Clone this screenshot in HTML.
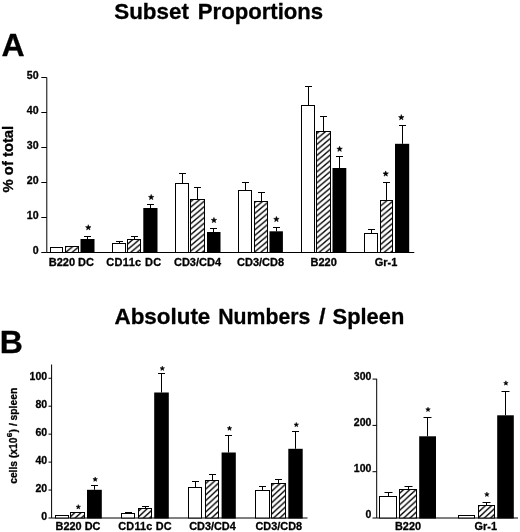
<!DOCTYPE html><html><head><meta charset="utf-8"><title>chart</title>
<style>html,body{margin:0;padding:0;background:#fff;}svg{display:block;filter:blur(0.3px)}</style></head><body>
<svg width="520" height="532" viewBox="0 0 520 532">
<defs><pattern id="hatch" width="6.5" height="5.5" patternUnits="userSpaceOnUse"><rect width="6.5" height="5.5" fill="#fff"/><path d="M-6.5 11.0L13.0 -5.5M-6.5 5.5L6.5 -5.5M0 11.0L13.0 0" stroke="#000" stroke-width="1.3"/></pattern><pattern id="hatchB" width="6.2" height="5.7" patternUnits="userSpaceOnUse"><rect width="6.2" height="5.7" fill="#fff"/><path d="M-6.2 11.4L12.4 -5.7M-6.2 5.7L6.2 -5.7M0 11.4L12.4 0" stroke="#000" stroke-width="1.35"/></pattern></defs>
<rect width="520" height="532" fill="#fff"/>
<text transform="translate(114.21 18.9) scale(0.9946 1)" font-size="22.55" font-family="Liberation Sans, sans-serif" font-weight="bold" stroke="#000" stroke-width="0.3" stroke-linejoin="round">Subset</text>
<text transform="translate(197.82 18.9) scale(0.9817 1)" font-size="22.55" font-family="Liberation Sans, sans-serif" font-weight="bold" stroke="#000" stroke-width="0.3" stroke-linejoin="round">Proportions</text>
<text transform="translate(114.49 323.7) scale(1.0053 1)" font-size="22.3" font-family="Liberation Sans, sans-serif" font-weight="bold" stroke="#000" stroke-width="0.3" stroke-linejoin="round">Absolute</text>
<text transform="translate(218.25 323.7) scale(0.9526 1)" font-size="22.3" font-family="Liberation Sans, sans-serif" font-weight="bold" stroke="#000" stroke-width="0.3" stroke-linejoin="round">Numbers</text>
<text transform="translate(318.90 323.7) scale(1.0500 1)" font-size="22.3" font-family="Liberation Sans, sans-serif" font-weight="bold" stroke="#000" stroke-width="0.3" stroke-linejoin="round">/</text>
<text transform="translate(332.62 323.7) scale(0.9803 1)" font-size="22.3" font-family="Liberation Sans, sans-serif" font-weight="bold" stroke="#000" stroke-width="0.3" stroke-linejoin="round">Spleen</text>
<text x="1.5" y="55.8" font-size="32" font-family="Liberation Sans, sans-serif" font-weight="bold" stroke="#000" stroke-width="0.3" stroke-linejoin="round">A</text>
<text x="-0.3" y="353.3" font-size="32" font-family="Liberation Sans, sans-serif" font-weight="bold" stroke="#000" stroke-width="0.3" stroke-linejoin="round">B</text>
<path d="M46.8 77.5V252.5H414.3" stroke="#000" stroke-width="1" fill="none"/>
<path d="M41.3 252.5H46.8" stroke="#000" stroke-width="1"/>
<text x="38.6" y="253.7" font-size="10.6" text-anchor="end" font-family="Liberation Sans, sans-serif" font-weight="bold" stroke="#000" stroke-width="0.3" stroke-linejoin="round">0</text>
<path d="M41.3 217.5H46.8" stroke="#000" stroke-width="1"/>
<text x="38.6" y="218.7" font-size="10.6" text-anchor="end" font-family="Liberation Sans, sans-serif" font-weight="bold" stroke="#000" stroke-width="0.3" stroke-linejoin="round">10</text>
<path d="M41.3 182.5H46.8" stroke="#000" stroke-width="1"/>
<text x="38.6" y="183.7" font-size="10.6" text-anchor="end" font-family="Liberation Sans, sans-serif" font-weight="bold" stroke="#000" stroke-width="0.3" stroke-linejoin="round">20</text>
<path d="M41.3 147.5H46.8" stroke="#000" stroke-width="1"/>
<text x="38.6" y="148.7" font-size="10.6" text-anchor="end" font-family="Liberation Sans, sans-serif" font-weight="bold" stroke="#000" stroke-width="0.3" stroke-linejoin="round">30</text>
<path d="M41.3 112.5H46.8" stroke="#000" stroke-width="1"/>
<text x="38.6" y="113.7" font-size="10.6" text-anchor="end" font-family="Liberation Sans, sans-serif" font-weight="bold" stroke="#000" stroke-width="0.3" stroke-linejoin="round">40</text>
<path d="M41.3 77.5H46.8" stroke="#000" stroke-width="1"/>
<text x="38.6" y="78.7" font-size="10.6" text-anchor="end" font-family="Liberation Sans, sans-serif" font-weight="bold" stroke="#000" stroke-width="0.3" stroke-linejoin="round">50</text>
<text transform="translate(13.2 159.1) rotate(-90)" font-size="14.8" text-anchor="middle" font-family="Liberation Sans, sans-serif" font-weight="bold" stroke="#000" stroke-width="0.3" stroke-linejoin="round">% of total</text>
<rect x="50.5" y="247.5" width="12.0" height="5.0" fill="#fff" stroke="#000" stroke-width="1.0"/>
<rect x="65.5" y="246.5" width="13.0" height="6.0" fill="url(#hatch)" stroke="#000" stroke-width="1.0"/>
<rect x="80.5" y="239" width="14.0" height="14.0" fill="#000"/>
<path d="M87.5 239V236.5M84.0 236.5H91.0" stroke="#000" stroke-width="1" fill="none"/>
<polygon points="88.30,224.70 89.02,226.61 91.06,226.70 89.46,227.98 90.00,229.95 88.30,228.82 86.60,229.95 87.14,227.98 85.54,226.70 87.58,226.61" fill="#000" stroke="#000" stroke-width="0.5" stroke-linejoin="round"/>
<rect x="112.5" y="243.5" width="13.0" height="9.0" fill="#fff" stroke="#000" stroke-width="1.0"/>
<path d="M119.5 243.5V241.5M116.0 241.5H123.0" stroke="#000" stroke-width="1" fill="none"/>
<rect x="127.5" y="239.5" width="13.0" height="13.0" fill="url(#hatch)" stroke="#000" stroke-width="1.0"/>
<path d="M134.5 239.5V236.5M131.0 236.5H138.0" stroke="#000" stroke-width="1" fill="none"/>
<rect x="143.3" y="208" width="14.199999999999989" height="45.0" fill="#000"/>
<path d="M150.5 208V204.5M147.0 204.5H154.0" stroke="#000" stroke-width="1" fill="none"/>
<polygon points="151.20,194.40 151.92,196.31 153.96,196.40 152.36,197.68 152.90,199.65 151.20,198.52 149.50,199.65 150.04,197.68 148.44,196.40 150.48,196.31" fill="#000" stroke="#000" stroke-width="0.5" stroke-linejoin="round"/>
<rect x="175.5" y="183.5" width="13.0" height="69.0" fill="#fff" stroke="#000" stroke-width="1.0"/>
<path d="M182.5 183.5V173.5M179.0 173.5H186.0" stroke="#000" stroke-width="1" fill="none"/>
<rect x="190.5" y="199.5" width="14.0" height="53.0" fill="url(#hatch)" stroke="#000" stroke-width="1.0"/>
<path d="M197.5 199.5V187.5M194.0 187.5H201.0" stroke="#000" stroke-width="1" fill="none"/>
<rect x="207" y="232" width="13.5" height="21.0" fill="#000"/>
<path d="M213.5 232V228.5M210.0 228.5H217.0" stroke="#000" stroke-width="1" fill="none"/>
<polygon points="213.95,217.40 214.67,219.31 216.71,219.40 215.11,220.68 215.65,222.65 213.95,221.52 212.25,222.65 212.79,220.68 211.19,219.40 213.23,219.31" fill="#000" stroke="#000" stroke-width="0.5" stroke-linejoin="round"/>
<rect x="238.5" y="190.5" width="13.0" height="62.0" fill="#fff" stroke="#000" stroke-width="1.0"/>
<path d="M245.5 190.5V182.5M242.0 182.5H249.0" stroke="#000" stroke-width="1" fill="none"/>
<rect x="254.5" y="201.5" width="13.0" height="51.0" fill="url(#hatch)" stroke="#000" stroke-width="1.0"/>
<path d="M261.5 201.5V192.5M258.0 192.5H265.0" stroke="#000" stroke-width="1" fill="none"/>
<rect x="269.5" y="231.3" width="13.399999999999977" height="21.69999999999999" fill="#000"/>
<path d="M276.5 231.3V227.5M273.0 227.5H280.0" stroke="#000" stroke-width="1" fill="none"/>
<polygon points="276.40,216.40 277.12,218.31 279.16,218.40 277.56,219.68 278.10,221.65 276.40,220.52 274.70,221.65 275.24,219.68 273.64,218.40 275.68,218.31" fill="#000" stroke="#000" stroke-width="0.5" stroke-linejoin="round"/>
<rect x="301.5" y="105.5" width="13.0" height="147.0" fill="#fff" stroke="#000" stroke-width="1.0"/>
<path d="M308.5 105.5V86.5M305.0 86.5H312.0" stroke="#000" stroke-width="1" fill="none"/>
<rect x="316.5" y="131.5" width="14.0" height="121.0" fill="url(#hatch)" stroke="#000" stroke-width="1.0"/>
<path d="M323.5 131.5V116.5M320.0 116.5H327.0" stroke="#000" stroke-width="1" fill="none"/>
<rect x="332.5" y="168" width="13.800000000000011" height="85.0" fill="#000"/>
<path d="M339.5 168V156.5M336.0 156.5H343.0" stroke="#000" stroke-width="1" fill="none"/>
<polygon points="339.60,146.20 340.32,148.11 342.36,148.20 340.76,149.48 341.30,151.45 339.60,150.32 337.90,151.45 338.44,149.48 336.84,148.20 338.88,148.11" fill="#000" stroke="#000" stroke-width="0.5" stroke-linejoin="round"/>
<rect x="364.5" y="233.5" width="13.0" height="19.0" fill="#fff" stroke="#000" stroke-width="1.0"/>
<path d="M371.5 233.5V229.5M368.0 229.5H375.0" stroke="#000" stroke-width="1" fill="none"/>
<rect x="380.5" y="200.5" width="12.0" height="52.0" fill="url(#hatch)" stroke="#000" stroke-width="1.0"/>
<path d="M386.5 200.5V182.5M383.0 182.5H390.0" stroke="#000" stroke-width="1" fill="none"/>
<polygon points="385.70,170.90 386.42,172.81 388.46,172.90 386.86,174.18 387.40,176.15 385.70,175.02 384.00,176.15 384.54,174.18 382.94,172.90 384.98,172.81" fill="#000" stroke="#000" stroke-width="0.5" stroke-linejoin="round"/>
<rect x="395" y="143.8" width="14.199999999999989" height="109.19999999999999" fill="#000"/>
<path d="M402.5 143.8V125.5M399.0 125.5H406.0" stroke="#000" stroke-width="1" fill="none"/>
<polygon points="401.30,114.60 402.02,116.51 404.06,116.60 402.46,117.88 403.00,119.85 401.30,118.72 399.60,119.85 400.14,117.88 398.54,116.60 400.58,116.51" fill="#000" stroke="#000" stroke-width="0.5" stroke-linejoin="round"/>
<text x="71.4" y="266.2" font-size="11" text-anchor="middle" font-family="Liberation Sans, sans-serif" font-weight="bold" stroke="#000" stroke-width="0.3" stroke-linejoin="round">B220 DC</text>
<text x="133.9" y="266.2" font-size="11" text-anchor="middle" letter-spacing="0.33" font-family="Liberation Sans, sans-serif" font-weight="bold" stroke="#000" stroke-width="0.3" stroke-linejoin="round">CD11c DC</text>
<text x="197.5" y="266.2" font-size="11" text-anchor="middle" font-family="Liberation Sans, sans-serif" font-weight="bold" stroke="#000" stroke-width="0.3" stroke-linejoin="round">CD3/CD4</text>
<text x="260.6" y="266.2" font-size="11" text-anchor="middle" font-family="Liberation Sans, sans-serif" font-weight="bold" stroke="#000" stroke-width="0.3" stroke-linejoin="round">CD3/CD8</text>
<text x="323.7" y="266.2" font-size="11" text-anchor="middle" font-family="Liberation Sans, sans-serif" font-weight="bold" stroke="#000" stroke-width="0.3" stroke-linejoin="round">B220</text>
<text x="386" y="266.2" font-size="11" text-anchor="middle" font-family="Liberation Sans, sans-serif" font-weight="bold" stroke="#000" stroke-width="0.3" stroke-linejoin="round">Gr-1</text>
<path d="M51.6 364.5V518H307.5" stroke="#000" stroke-width="1" fill="none"/>
<path d="M48.5 518.00H51.6" stroke="#000" stroke-width="1"/>
<text x="47.1" y="520.00" font-size="10.5" text-anchor="end" font-family="Liberation Sans, sans-serif" font-weight="bold" stroke="#000" stroke-width="0.3" stroke-linejoin="round">0</text>
<path d="M48.5 490.05H51.6" stroke="#000" stroke-width="1"/>
<text x="47.1" y="492.05" font-size="10.5" text-anchor="end" font-family="Liberation Sans, sans-serif" font-weight="bold" stroke="#000" stroke-width="0.3" stroke-linejoin="round">20</text>
<path d="M48.5 462.10H51.6" stroke="#000" stroke-width="1"/>
<text x="47.1" y="464.10" font-size="10.5" text-anchor="end" font-family="Liberation Sans, sans-serif" font-weight="bold" stroke="#000" stroke-width="0.3" stroke-linejoin="round">40</text>
<path d="M48.5 434.15H51.6" stroke="#000" stroke-width="1"/>
<text x="47.1" y="436.15" font-size="10.5" text-anchor="end" font-family="Liberation Sans, sans-serif" font-weight="bold" stroke="#000" stroke-width="0.3" stroke-linejoin="round">60</text>
<path d="M48.5 406.20H51.6" stroke="#000" stroke-width="1"/>
<text x="47.1" y="408.20" font-size="10.5" text-anchor="end" font-family="Liberation Sans, sans-serif" font-weight="bold" stroke="#000" stroke-width="0.3" stroke-linejoin="round">80</text>
<path d="M48.5 378.25H51.6" stroke="#000" stroke-width="1"/>
<text x="47.1" y="380.25" font-size="10.5" text-anchor="end" font-family="Liberation Sans, sans-serif" font-weight="bold" stroke="#000" stroke-width="0.3" stroke-linejoin="round">100</text>
<text transform="translate(17.3 435.8) rotate(-90)" font-size="10.3" text-anchor="middle" font-family="Liberation Sans, sans-serif" font-weight="bold" stroke="#000" stroke-width="0.3" stroke-linejoin="round">cells (x10<tspan font-size="8" dy="-5" dx="0.3">6</tspan><tspan dy="5" dx="0.3">) / spleen</tspan></text>
<rect x="55.5" y="515.5" width="13.0" height="2.5" fill="#fff" stroke="#000" stroke-width="1.0"/>
<rect x="70.5" y="512.5" width="14.0" height="5.5" fill="url(#hatchB)" stroke="#000" stroke-width="1.0"/>
<polygon points="78.30,504.60 78.89,506.18 80.58,506.26 79.26,507.31 79.71,508.94 78.30,508.01 76.89,508.94 77.34,507.31 76.02,506.26 77.71,506.18" fill="#000" stroke="#000" stroke-width="0.5" stroke-linejoin="round"/>
<rect x="87" y="489.8" width="14.799999999999997" height="28.69999999999999" fill="#000"/>
<path d="M94.5 489.8V485.5M91.0 485.5H98.0" stroke="#000" stroke-width="1" fill="none"/>
<polygon points="95.20,477.00 95.79,478.58 97.48,478.66 96.16,479.71 96.61,481.34 95.20,480.41 93.79,481.34 94.24,479.71 92.92,478.66 94.61,478.58" fill="#000" stroke="#000" stroke-width="0.5" stroke-linejoin="round"/>
<rect x="121.5" y="513.5" width="13.0" height="4.5" fill="#fff" stroke="#000" stroke-width="1.0"/>
<path d="M128.5 513.5V512.5M125.0 512.5H132.0" stroke="#000" stroke-width="1" fill="none"/>
<rect x="138.5" y="508.5" width="13.0" height="9.5" fill="url(#hatchB)" stroke="#000" stroke-width="1.0"/>
<path d="M145.5 508.5V506.5M142.0 506.5H149.0" stroke="#000" stroke-width="1" fill="none"/>
<rect x="154.2" y="392.5" width="14.600000000000023" height="126.0" fill="#000"/>
<path d="M161.5 392.5V373.5M158.0 373.5H165.0" stroke="#000" stroke-width="1" fill="none"/>
<polygon points="162.30,366.10 162.89,367.68 164.58,367.76 163.26,368.81 163.71,370.44 162.30,369.51 160.89,370.44 161.34,368.81 160.02,367.76 161.71,367.68" fill="#000" stroke="#000" stroke-width="0.5" stroke-linejoin="round"/>
<rect x="188.5" y="487.5" width="13.0" height="30.5" fill="#fff" stroke="#000" stroke-width="1.0"/>
<path d="M195.5 487.5V481.5M192.0 481.5H199.0" stroke="#000" stroke-width="1" fill="none"/>
<rect x="205.5" y="480.5" width="13.0" height="37.5" fill="url(#hatchB)" stroke="#000" stroke-width="1.0"/>
<path d="M212.5 480.5V474.5M209.0 474.5H216.0" stroke="#000" stroke-width="1" fill="none"/>
<rect x="221.6" y="452.5" width="14.200000000000017" height="66.0" fill="#000"/>
<path d="M228.5 452.5V435.5M225.0 435.5H232.0" stroke="#000" stroke-width="1" fill="none"/>
<polygon points="229.50,426.00 230.09,427.58 231.78,427.66 230.46,428.71 230.91,430.34 229.50,429.41 228.09,430.34 228.54,428.71 227.22,427.66 228.91,427.58" fill="#000" stroke="#000" stroke-width="0.5" stroke-linejoin="round"/>
<rect x="255.5" y="490.5" width="14.0" height="27.5" fill="#fff" stroke="#000" stroke-width="1.0"/>
<path d="M262.5 490.5V486.5M259.0 486.5H266.0" stroke="#000" stroke-width="1" fill="none"/>
<rect x="271.5" y="483.5" width="14.0" height="34.5" fill="url(#hatchB)" stroke="#000" stroke-width="1.0"/>
<path d="M278.5 483.5V479.5M275.0 479.5H282.0" stroke="#000" stroke-width="1" fill="none"/>
<rect x="288.3" y="448.8" width="14.399999999999977" height="69.69999999999999" fill="#000"/>
<path d="M295.5 448.8V431.5M292.0 431.5H299.0" stroke="#000" stroke-width="1" fill="none"/>
<polygon points="296.30,422.40 296.89,423.98 298.58,424.06 297.26,425.11 297.71,426.74 296.30,425.81 294.89,426.74 295.34,425.11 294.02,424.06 295.71,423.98" fill="#000" stroke="#000" stroke-width="0.5" stroke-linejoin="round"/>
<text x="78" y="529.8" font-size="10.9" text-anchor="middle" font-family="Liberation Sans, sans-serif" font-weight="bold" stroke="#000" stroke-width="0.3" stroke-linejoin="round">B220 DC</text>
<text x="145.1" y="529.8" font-size="10.9" text-anchor="middle" letter-spacing="0.2" font-family="Liberation Sans, sans-serif" font-weight="bold" stroke="#000" stroke-width="0.3" stroke-linejoin="round">CD11c DC</text>
<text x="212.5" y="529.8" font-size="10.9" text-anchor="middle" font-family="Liberation Sans, sans-serif" font-weight="bold" stroke="#000" stroke-width="0.3" stroke-linejoin="round">CD3/CD4</text>
<text x="278.8" y="529.8" font-size="10.9" text-anchor="middle" font-family="Liberation Sans, sans-serif" font-weight="bold" stroke="#000" stroke-width="0.3" stroke-linejoin="round">CD3/CD8</text>
<path d="M376.7 378.8V518H518" stroke="#000" stroke-width="1" fill="none"/>
<path d="M372.5 518.00H376.7" stroke="#000" stroke-width="1"/>
<text x="371.4" y="518.40" font-size="10.5" text-anchor="end" font-family="Liberation Sans, sans-serif" font-weight="bold" stroke="#000" stroke-width="0.3" stroke-linejoin="round">0</text>
<path d="M372.5 471.70H376.7" stroke="#000" stroke-width="1"/>
<text x="371.4" y="472.10" font-size="10.5" text-anchor="end" font-family="Liberation Sans, sans-serif" font-weight="bold" stroke="#000" stroke-width="0.3" stroke-linejoin="round">100</text>
<path d="M372.5 425.40H376.7" stroke="#000" stroke-width="1"/>
<text x="371.4" y="425.80" font-size="10.5" text-anchor="end" font-family="Liberation Sans, sans-serif" font-weight="bold" stroke="#000" stroke-width="0.3" stroke-linejoin="round">200</text>
<path d="M372.5 379.10H376.7" stroke="#000" stroke-width="1"/>
<text x="371.4" y="379.50" font-size="10.5" text-anchor="end" font-family="Liberation Sans, sans-serif" font-weight="bold" stroke="#000" stroke-width="0.3" stroke-linejoin="round">300</text>
<rect x="379.5" y="496.5" width="17.0" height="21.5" fill="#fff" stroke="#000" stroke-width="1.0"/>
<path d="M388.5 496.5V492.5M384.5 492.5H392.5" stroke="#000" stroke-width="1" fill="none"/>
<rect x="399.5" y="489.5" width="17.0" height="28.5" fill="url(#hatchB)" stroke="#000" stroke-width="1.0"/>
<path d="M408.5 489.5V486.5M404.5 486.5H412.5" stroke="#000" stroke-width="1" fill="none"/>
<rect x="419.2" y="436.3" width="16.80000000000001" height="82.19999999999999" fill="#000"/>
<path d="M427.5 436.3V417.5M423.5 417.5H431.5" stroke="#000" stroke-width="1" fill="none"/>
<polygon points="428.00,407.20 428.59,408.78 430.28,408.86 428.96,409.91 429.41,411.54 428.00,410.61 426.59,411.54 427.04,409.91 425.72,408.86 427.41,408.78" fill="#000" stroke="#000" stroke-width="0.5" stroke-linejoin="round"/>
<rect x="458.5" y="515.5" width="16.0" height="2.5" fill="#fff" stroke="#000" stroke-width="1.0"/>
<rect x="478.5" y="505.5" width="16.0" height="12.5" fill="url(#hatchB)" stroke="#000" stroke-width="1.0"/>
<path d="M486.5 505.5V502.5M482.5 502.5H490.5" stroke="#000" stroke-width="1" fill="none"/>
<polygon points="486.90,492.10 487.49,493.68 489.18,493.76 487.86,494.81 488.31,496.44 486.90,495.51 485.49,496.44 485.94,494.81 484.62,493.76 486.31,493.68" fill="#000" stroke="#000" stroke-width="0.5" stroke-linejoin="round"/>
<rect x="497.2" y="415.3" width="16.599999999999966" height="103.19999999999999" fill="#000"/>
<path d="M505.5 415.3V391.5M501.5 391.5H509.5" stroke="#000" stroke-width="1" fill="none"/>
<polygon points="505.90,380.80 506.49,382.38 508.18,382.46 506.86,383.51 507.31,385.14 505.90,384.21 504.49,385.14 504.94,383.51 503.62,382.46 505.31,382.38" fill="#000" stroke="#000" stroke-width="0.5" stroke-linejoin="round"/>
<text x="408.0" y="529.8" font-size="10.9" text-anchor="middle" font-family="Liberation Sans, sans-serif" font-weight="bold" stroke="#000" stroke-width="0.3" stroke-linejoin="round">B220</text>
<text x="485.8" y="529.8" font-size="10.9" text-anchor="middle" font-family="Liberation Sans, sans-serif" font-weight="bold" stroke="#000" stroke-width="0.3" stroke-linejoin="round">Gr-1</text>
</svg></body></html>
